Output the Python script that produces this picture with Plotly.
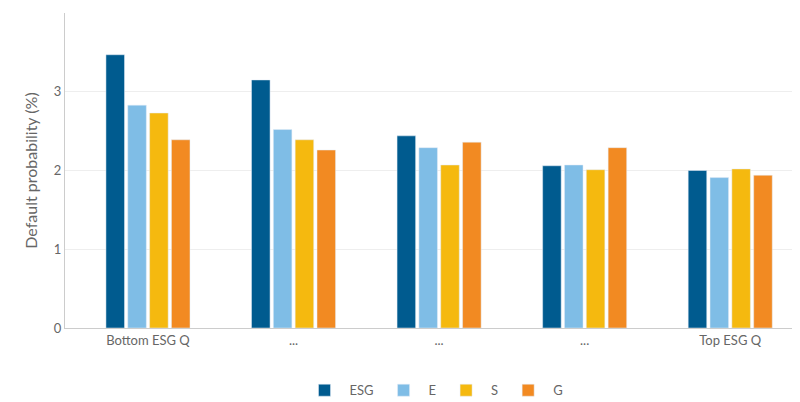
import plotly.graph_objects as go

groups = ["Bottom ESG Q", "...", "...", "...", "Top ESG Q"]
series_names = ["ESG", "E", "S", "G"]
esg = [3.47, 3.15, 2.44, 2.06, 2.00]
e = [2.83, 2.52, 2.29, 2.07, 1.91]
s = [2.73, 2.39, 2.07, 2.01, 2.02]
g = [2.39, 2.26, 2.36, 2.29, 1.94]
colors = ["#005b8f", "#7fbde6", "#f5b90f", "#f28a22"]

x = list(range(len(groups)))
fig = go.Figure()
for name, vals, col in zip(series_names, [esg, e, s, g], colors):
    fig.add_trace(go.Bar(x=x, y=vals, name=name, marker_color=col))

fig.update_layout(
    width=800, height=402,
    plot_bgcolor="white", paper_bgcolor="white",
    barmode="group", bargap=0.4, bargroupgap=0.15,
    margin=dict(l=57, r=5, t=5, b=65),
    font=dict(family="Lato", size=13, color="#666666"),
    legend=dict(orientation="h", x=0.5, xanchor="center", y=-0.15, yanchor="top",
                font=dict(size=13), itemwidth=40),
)
fig.update_xaxes(tickvals=x, ticktext=groups, range=[-0.57, 4.5],
                 showline=True, linecolor="#cccccc", ticks="")
fig.update_yaxes(range=[0, 4], dtick=1, showline=True, linecolor="#cccccc",
                 gridcolor="#eeeeee", zeroline=False,
                 title=dict(text="Default probability (%)", standoff=12))
fig.write_html("out.html")
